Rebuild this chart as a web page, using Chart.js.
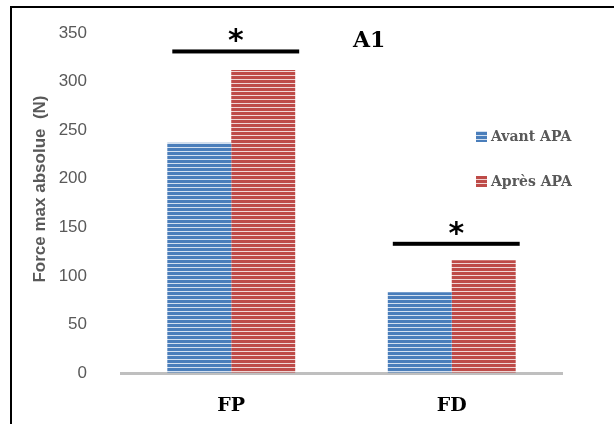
<!DOCTYPE html>
<html>
<head>
<meta charset="utf-8">
<script src="https://cdn.jsdelivr.net/npm/chart.js@4"></script>
<style>
  html, body { margin: 0; padding: 0; background: #fff; }
  #wrap { position: relative; width: 614px; height: 424px; }
</style>
</head>
<body>
<div id="wrap"><canvas id="forceChart" width="614" height="424"></canvas></div>
<script>
const categories = ['FP', 'FD'];
const avantValues = [237, 83];
const apresValues = [312, 116];
const seriesNames = ['Avant APA', 'Après APA'];
const yTicks = [0, 50, 100, 150, 200, 250, 300, 350];
const sigLevels = [331, 133];   // height of the significance bar over each group
const sigMarks = ['*', '*'];

const SERIF = "'DejaVu Serif', serif";
const SANS = "'Liberation Sans', sans-serif";

function stripes(base, light) {
  const c = document.createElement('canvas');
  c.width = 4; c.height = 4;
  const g = c.getContext('2d');
  g.fillStyle = base; g.fillRect(0, 0, 4, 4);
  g.fillStyle = light; g.fillRect(0, 3, 4, 1);
  return g.createPattern(c, 'repeat');
}

const blueFill = stripes('#4a7ebb', '#d3e0f0');
const redFill = stripes('#be4b48', '#f0d6d5');

const decorations = {
  id: 'decorations',
  beforeDraw(chart) {
    const ctx = chart.ctx;
    ctx.save();
    ctx.fillStyle = '#fff';
    ctx.fillRect(0, 0, chart.width, chart.height);
    ctx.strokeStyle = '#000';
    ctx.lineWidth = 2;
    ctx.beginPath();
    ctx.moveTo(11, chart.height + 5);
    ctx.lineTo(11, 7);
    ctx.lineTo(chart.width + 5, 7);
    ctx.stroke();
    ctx.restore();
  },
  afterDraw(chart) {
    const ctx = chart.ctx;
    const y = chart.scales.y;
    const a = chart.getDatasetMeta(0).data;
    const b = chart.getDatasetMeta(1).data;
    ctx.save();

    // significance bars
    categories.forEach((_, i) => {
      const x0 = a[i].x - a[i].width / 2 + 5;
      const x1 = b[i].x + b[i].width / 2 + 4;
      const py = y.getPixelForValue(sigLevels[i]);
      ctx.fillStyle = '#000';
      ctx.fillRect(x0, py - 2, x1 - x0, 4);
      ctx.font = "bold 30px 'DejaVu Sans', sans-serif";
      ctx.textAlign = 'center';
      ctx.textBaseline = 'alphabetic';
      ctx.fillText(sigMarks[i], (x0 + x1) / 2, py - 1);
    });

    // title
    ctx.font = "bold 22px " + SERIF;
    ctx.textAlign = 'left';
    ctx.textBaseline = 'middle';
    ctx.fillStyle = '#000';
    ctx.fillText('A1', 353, 41);

    // y axis title
    ctx.save();
    ctx.translate(40, 189);
    ctx.rotate(-Math.PI / 2);
    ctx.font = "bold 17px " + SANS;
    ctx.fillStyle = '#595959';
    ctx.textAlign = 'center';
    ctx.textBaseline = 'middle';
    ctx.fillText('Force max absolue  (N)', 0, 0);
    ctx.restore();

    // legend
    const fills = [blueFill, redFill];
    seriesNames.forEach((name, i) => {
      const ly = 137 + i * 45;
      ctx.fillStyle = fills[i];
      ctx.fillRect(476, ly - 6, 11, 11);
      ctx.font = "bold 14px " + SERIF;
      ctx.fillStyle = '#595959';
      ctx.textAlign = 'left';
      ctx.textBaseline = 'middle';
      ctx.fillText(name, 491, ly);
    });
    ctx.restore();
  }
};

new Chart(document.getElementById('forceChart'), {
  type: 'bar',
  data: {
    labels: categories,
    datasets: [
      { label: seriesNames[0], data: avantValues, backgroundColor: blueFill, borderWidth: 0 },
      { label: seriesNames[1], data: apresValues, backgroundColor: redFill, borderWidth: 0 },
    ],
  },
  options: {
    responsive: false,
    animation: false,
    devicePixelRatio: 1,
    layout: { padding: { left: 0, right: 52, top: 33, bottom: 0 } },
    plugins: { legend: { display: false }, tooltip: { enabled: false } },
    datasets: { bar: { categoryPercentage: 0.58, barPercentage: 1.0 } },
    scales: {
      x: {
        grid: { display: false },
        border: { color: '#bfbfbf', width: 3 },
        ticks: { color: '#000', padding: 14, font: { family: SERIF, weight: 'bold', size: 19 } },
        afterFit(scale) { scale.height = 51; },
      },
      y: {
        min: 0, max: 350,
        grid: { display: true, drawOnChartArea: false, drawTicks: true, tickLength: 34, tickColor: 'rgba(0,0,0,0)' },
        border: { display: false },
        afterBuildTicks(scale) { scale.ticks = yTicks.map(v => ({ value: v })); },
        ticks: { color: '#595959', padding: 0, font: { family: SANS, size: 17 } },
        afterFit(scale) { scale.width = 121; },
      },
    },
  },
  plugins: [decorations],
});
</script>
</body>
</html>
